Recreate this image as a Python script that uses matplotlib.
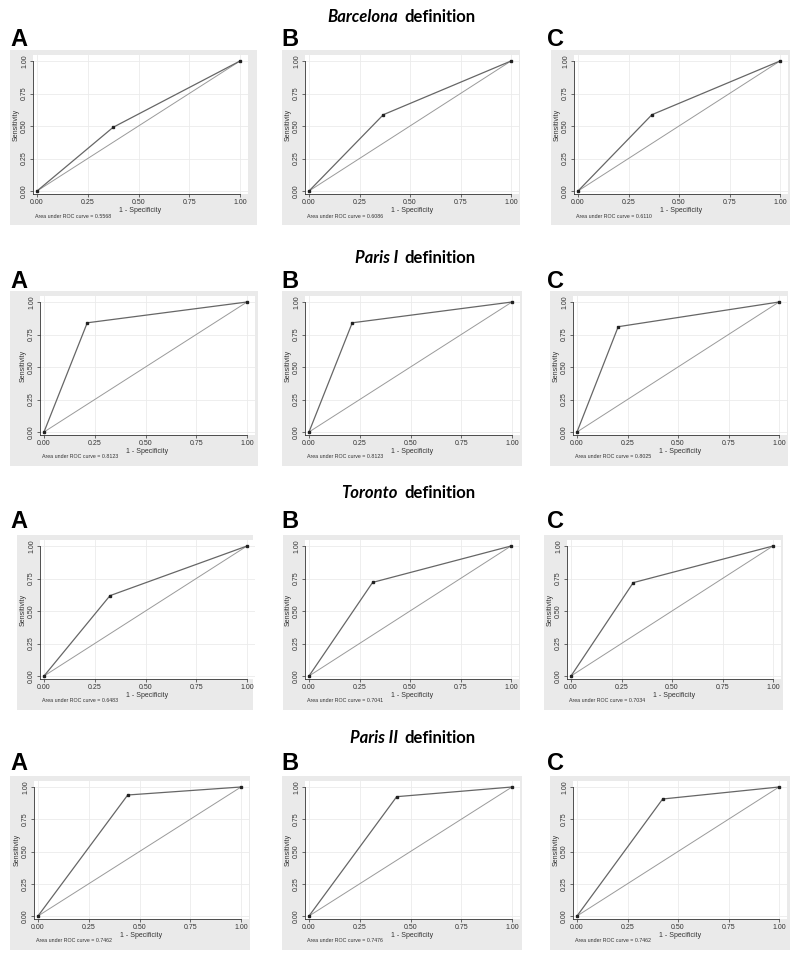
"""
ROC curves for the four IBD definitions (panels A, B, C per definition).
"""

import matplotlib
matplotlib.use("Agg")
import matplotlib.pyplot as plt
from matplotlib.patches import Rectangle

# ---------------------------------------------------------------------------
# Data
# ---------------------------------------------------------------------------

definitions = ["Barcelona", "Paris I", "Toronto", "Paris II"]
panels = ["A", "B", "C"]

# 1 - specificity of the single cut-point, per definition x panel
fpr = [
    [0.375, 0.368, 0.366],
    [0.213, 0.213, 0.204],
    [0.325, 0.315, 0.308],
    [0.442, 0.432, 0.424],
]
# sensitivity of the single cut-point
sens = [
    [0.490, 0.587, 0.587],
    [0.840, 0.840, 0.810],
    [0.618, 0.720, 0.718],
    [0.938, 0.925, 0.907],
]
auc = [
    [0.5568, 0.6086, 0.6110],
    [0.8123, 0.8123, 0.8025],
    [0.6483, 0.7041, 0.7034],
    [0.7462, 0.7476, 0.7462],
]
ticks = [0.0, 0.25, 0.5, 0.75, 1.0]
tick_labels = ["0.00", "0.25", "0.50", "0.75", "1.00"]

# ---------------------------------------------------------------------------
# Layout (pixel positions on an 800x960 canvas)
# ---------------------------------------------------------------------------

W, H = 800, 960
# per row: pixel y of data 1.0 and data 0.0, title y, panel letter y
row_y1 = [61, 302, 546, 787]
row_y0 = [191, 432, 676, 916]
title_y = [17, 258, 493, 738]
letter_y = [40, 281, 522, 763]
# per row/col: pixel x of data 0 and 1, grey box left/right
col_x = [
    [(37, 240, 10, 257), (309, 511, 282, 520), (578, 780, 551, 790)],
    [(44, 247, 10, 258), (309, 512, 282, 522), (577, 779, 550, 788)],
    [(44, 247, 17, 253), (309, 511, 283, 520), (571, 773, 544, 783)],
    [(38, 241, 10, 250), (309, 512, 282, 522), (577, 779, 550, 790)],
]
letter_x = [10, 281, 547]

XMIN, XMAX = -0.02, 1.04
YMIN, YMAX = -0.025, 1.045

AXFONT = ["Liberation Sans", "DejaVu Sans"]
TITLEFONT = ["Lato", "DejaVu Sans"]


def fx(px):
    return px / W


def fy(py):
    return 1 - py / H


fig = plt.figure(figsize=(8, 9.6), dpi=100)
fig.patch.set_facecolor("white")

for r, name in enumerate(definitions):
    y1, y0 = row_y1[r], row_y0[r]
    sy = y0 - y1
    box_top, box_bot = y1 - 11, y0 + 34

    # row title: italic name + "definition"
    fig.text(fx(398), fy(title_y[r]), name, ha="right", va="center",
             fontsize=12, fontweight="bold", fontstyle="italic", family=TITLEFONT)
    fig.text(fx(404), fy(title_y[r]), "definition", ha="left", va="center",
             fontsize=12, fontweight="bold", family=TITLEFONT)

    for c, letter in enumerate(panels):
        x0, x1, bl, br = col_x[r][c]
        sx = x1 - x0

        fig.text(fx(letter_x[c]), fy(letter_y[r]), letter, ha="left", va="center",
                 fontsize=17, fontweight="bold", family=AXFONT)

        # light grey graph region
        fig.add_artist(Rectangle((fx(bl), fy(box_bot)), fx(br - bl), (box_bot - box_top) / H,
                                 transform=fig.transFigure, facecolor="#eaeaea",
                                 edgecolor="none", zorder=0))

        left = x0 + XMIN * sx
        right = x0 + XMAX * sx
        top = y0 - YMAX * sy
        bottom = y0 - YMIN * sy
        ax = fig.add_axes([fx(left), fy(bottom), fx(right - left), (bottom - top) / H])
        ax.set_facecolor("white")
        ax.set_xlim(XMIN, XMAX)
        ax.set_ylim(YMIN, YMAX)

        for s in ("top", "right"):
            ax.spines[s].set_visible(False)
        for s in ("left", "bottom"):
            ax.spines[s].set_linewidth(0.6)
            ax.spines[s].set_color("#333333")
        ax.spines["left"].set_bounds(YMIN, 1.0)
        ax.spines["bottom"].set_bounds(XMIN, 1.0)

        ax.set_xticks(ticks)
        ax.set_yticks(ticks)
        ax.set_xticklabels(tick_labels, family=AXFONT)
        ax.set_yticklabels(tick_labels, family=AXFONT, rotation=90, va="center")
        ax.tick_params(axis="both", length=2, width=0.5, pad=1.5, labelsize=5,
                       colors="#333333")
        ax.grid(True, color="#ebebeb", linewidth=0.6)
        ax.set_axisbelow(True)

        ax.set_xlabel("1 - Specificity", fontsize=5, family=AXFONT, labelpad=0.3,
                      color="#333333")
        ax.set_ylabel("Sensitivity", fontsize=5, family=AXFONT, labelpad=1,
                      color="#333333")

        # reference diagonal
        ax.plot([0, 1], [0, 1], color="#9a9a9a", linewidth=0.7, zorder=2)
        # empirical ROC curve through the single cut-point
        xs = [0.0, fpr[r][c], 1.0]
        ys = [0.0, sens[r][c], 1.0]
        ax.plot(xs, ys, color="#666666", linewidth=0.9, zorder=3)
        ax.plot(xs, ys, linestyle="none", marker="s", markersize=1.8,
                color="#222222", zorder=4)

        fig.text(fx(x0 - 2), fy(y0 + 25), f"Area under ROC curve = {auc[r][c]:.4f}",
                 ha="left", va="center", fontsize=3.8, family=AXFONT, color="#333333")

fig.savefig("out.png", dpi=100)
